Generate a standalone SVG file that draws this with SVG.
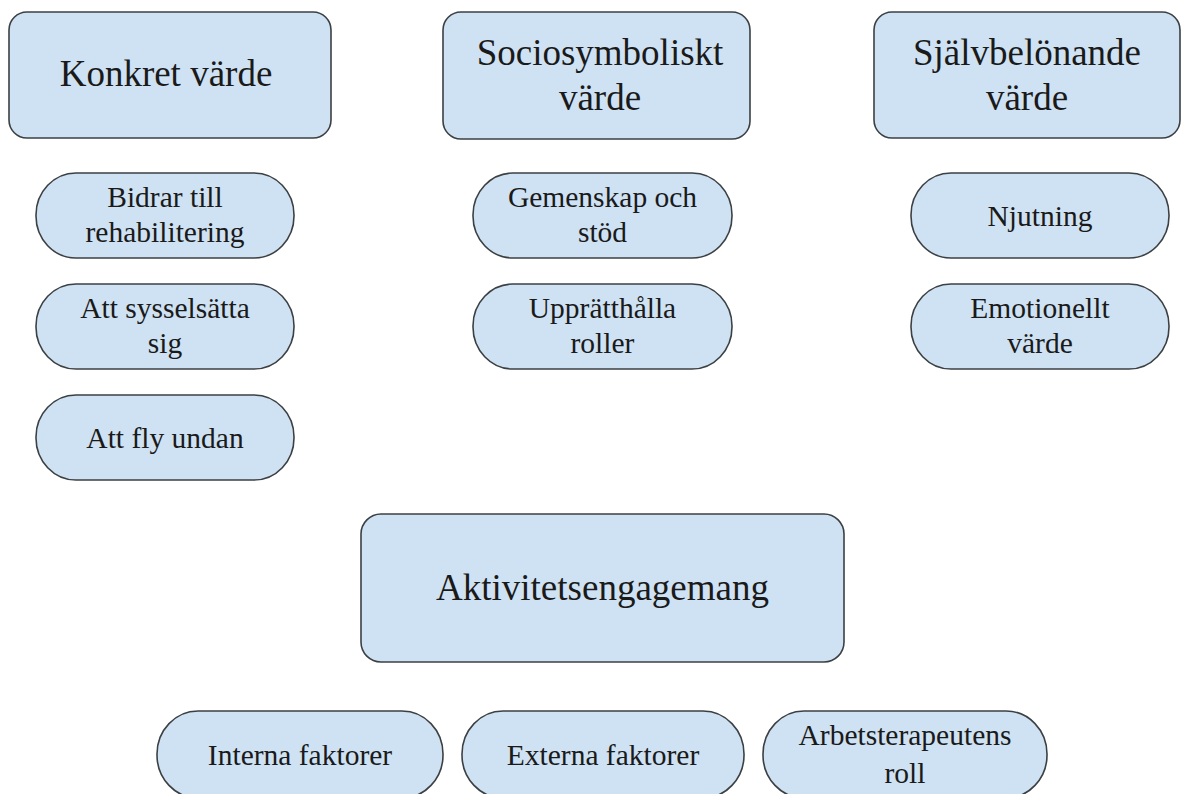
<svg xmlns="http://www.w3.org/2000/svg" width="1192" height="794" viewBox="0 0 1192 794">
<style>
  .box { fill: #cfe2f3; stroke: #3c4043; stroke-width: 1.6; }
  .t { font-family: "Liberation Serif", "Times New Roman", serif; fill: #1a1a1a; text-anchor: middle; }
  .big { font-size: 37px; }
  .pill { font-size: 29.5px; }
</style>
<rect width="1192" height="794" fill="#ffffff"/>
<g id="connectors"></g>

<g id="konkret">
  <rect class="box" x="9" y="12" width="322" height="126" rx="18" ry="18"/>
  <text class="t big" x="166" y="86">Konkret värde</text>
</g>
<g id="sociosymboliskt">
  <rect class="box" x="443" y="12" width="307" height="127" rx="18" ry="18"/>
  <text class="t big" x="600" y="65">Sociosymboliskt</text>
  <text class="t big" x="600" y="110">värde</text>
</g>
<g id="sjalvbelonande">
  <rect class="box" x="874" y="12" width="306" height="126" rx="18" ry="18"/>
  <text class="t big" x="1027" y="65">Självbelönande</text>
  <text class="t big" x="1027" y="110">värde</text>
</g>

<g id="bidrar">
  <rect class="box" x="36" y="173" width="258" height="85" rx="40" ry="42"/>
  <text class="t pill" x="165" y="207">Bidrar till</text>
  <text class="t pill" x="165" y="242">rehabilitering</text>
</g>
<g id="sysselsatta">
  <rect class="box" x="36" y="284" width="258" height="85" rx="40" ry="42"/>
  <text class="t pill" x="165" y="318">Att sysselsätta</text>
  <text class="t pill" x="165" y="353">sig</text>
</g>
<g id="flyundan">
  <rect class="box" x="36" y="395" width="258" height="85" rx="40" ry="42"/>
  <text class="t pill" x="165" y="448">Att fly undan</text>
</g>

<g id="gemenskap">
  <rect class="box" x="473" y="173" width="259" height="85" rx="40" ry="42"/>
  <text class="t pill" x="602.5" y="207">Gemenskap och</text>
  <text class="t pill" x="602.5" y="242">stöd</text>
</g>
<g id="roller">
  <rect class="box" x="473" y="284" width="259" height="85" rx="40" ry="42"/>
  <text class="t pill" x="602.5" y="318">Upprätthålla</text>
  <text class="t pill" x="602.5" y="353">roller</text>
</g>

<g id="njutning">
  <rect class="box" x="911" y="173" width="258" height="85" rx="40" ry="42"/>
  <text class="t pill" x="1040" y="226">Njutning</text>
</g>
<g id="emotionellt">
  <rect class="box" x="911" y="284" width="258" height="85" rx="40" ry="42"/>
  <text class="t pill" x="1040" y="318">Emotionellt</text>
  <text class="t pill" x="1040" y="353">värde</text>
</g>

<g id="aktivitetsengagemang">
  <rect class="box" x="361" y="514" width="483" height="148" rx="20" ry="20"/>
  <text class="t big" x="602.5" y="600">Aktivitetsengagemang</text>
</g>

<g id="interna">
  <rect class="box" x="157" y="711" width="286" height="87" rx="41" ry="43"/>
  <text class="t pill" x="300" y="765">Interna faktorer</text>
</g>
<g id="externa">
  <rect class="box" x="462" y="711" width="282" height="87" rx="41" ry="43"/>
  <text class="t pill" x="603" y="765">Externa faktorer</text>
</g>
<g id="arbetsterapeutens">
  <rect class="box" x="763" y="711" width="284" height="87" rx="41" ry="43"/>
  <text class="t pill" x="905" y="745">Arbetsterapeutens</text>
  <text class="t pill" x="905" y="783">roll</text>
</g>
</svg>
